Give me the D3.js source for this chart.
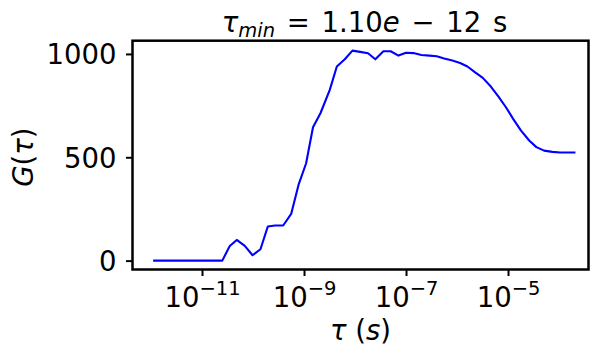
<!DOCTYPE html>
<html>
<head>
<meta charset="utf-8">
<script src="https://cdn.jsdelivr.net/npm/d3@7"></script>
<style>
  html, body { margin: 0; padding: 0; background: #fff; }
  svg text { font-family: "DejaVu Sans", sans-serif; fill: #000; }
</style>
</head>
<body>
<div id="chart"></div>
<script>
// ── Data: lag time tau (s) and correlation G(tau) ──────────────────────────
const tau = [
  1.1e-12, 1.6e-12, 2.3e-12, 3.3e-12, 4.7e-12, 6.7e-12, 9.5e-12, 1.35e-11, 1.9e-11,
  2.5e-11, 3.5e-11, 4.8e-11, 6.9e-11, 9.8e-11, 1.4e-10, 1.95e-10, 2.7e-10, 3.9e-10,
  5.6e-10, 7.8e-10, 1.1e-9, 1.5e-9, 2.1e-9, 3.2e-9, 4.4e-9, 6.3e-9, 8.9e-9,
  1.26e-8, 1.8e-8, 2.5e-8, 3.6e-8, 5.0e-8, 7.1e-8, 1.0e-7, 1.4e-7, 2.0e-7,
  2.9e-7, 4.0e-7, 5.6e-7, 8.1e-7, 1.15e-6, 1.6e-6, 2.2e-6, 3.2e-6, 4.6e-6,
  6.5e-6, 9.1e-6, 1.26e-5, 1.8e-5, 2.6e-5, 3.6e-5, 5.1e-5, 7.4e-5, 1.05e-4,
  1.5e-4, 2.1e-4
];
const gTau = [
  0, 0, 0, 0, 0, 0, 0, 0, 0,
  0, 71, 100, 71, 26, 55, 165, 170, 170,
  226, 366, 471, 645, 713, 826, 939, 974, 1016,
  1010, 1003, 974, 1013, 1013, 992, 1006, 1004, 995,
  992, 989, 978, 968, 956, 939, 913, 884, 842,
  793, 742, 686, 629, 581, 549, 532, 526, 523,
  523, 523
];
const xTicks = [1e-11, 1e-9, 1e-7, 1e-5];
const xTickExp = ['−11', '−9', '−7', '−5'];
const yTicks = [0, 500, 1000];

const W = 606, H = 359;
const FS = 27.5;     // main font size
const FS_SUB = 19.5; // super/subscript size
const plot = { left: 132.5, right: 588.5, top: 40.7, bottom: 269.5 };

const svg = d3.select('#chart').append('svg')
  .attr('width', W).attr('height', H);

const x = d3.scaleLog()
  .domain([Math.pow(10, -12.363), Math.pow(10, -3.422)])
  .range([plot.left, plot.right]);

const y = d3.scaleLinear()
  .domain([-43, 1064])
  .range([plot.bottom, plot.top]);

// ── Data line ──────────────────────────────────────────────────────────
const line = d3.line()
  .x((d, i) => x(tau[i]))
  .y(d => y(d));

svg.append('path')
  .datum(gTau)
  .attr('d', line)
  .attr('fill', 'none')
  .attr('stroke', '#0000ff')
  .attr('stroke-width', 2.1)
  .attr('stroke-linejoin', 'round');

// ── Axes ───────────────────────────────────────────────────────────────
const xAxis = svg.append('g')
  .attr('transform', `translate(0, ${plot.bottom})`)
  .call(d3.axisBottom(x).tickValues(xTicks).tickFormat('').tickSize(6.5).tickSizeOuter(0));

xAxis.select('.domain').remove();
xAxis.selectAll('.tick line').attr('stroke', '#000').attr('stroke-width', 2);

xAxis.selectAll('.tick').each(function (d, i) {
  const t = d3.select(this).append('text')
    .attr('y', 37)
    .attr('text-anchor', 'middle')
    .attr('font-size', FS);
  t.append('tspan').text('10');
  t.append('tspan')
    .attr('font-size', FS_SUB)
    .attr('dy', -11.5)
    .text(xTickExp[i]);
});

const yAxis = svg.append('g')
  .attr('transform', `translate(${plot.left}, 0)`)
  .call(d3.axisLeft(y).tickValues(yTicks).tickFormat(d3.format('d')).tickSize(6.5).tickSizeOuter(0));

yAxis.select('.domain').remove();
yAxis.selectAll('.tick line').attr('stroke', '#000').attr('stroke-width', 2);
yAxis.selectAll('.tick text')
  .attr('x', -16)
  .attr('dy', '0.36em')
  .attr('font-size', FS)
  .attr('font-family', '"DejaVu Sans", sans-serif');

// ── Frame ──────────────────────────────────────────────────────────────
svg.append('rect')
  .attr('x', plot.left).attr('y', plot.top)
  .attr('width', plot.right - plot.left)
  .attr('height', plot.bottom - plot.top)
  .attr('fill', 'none')
  .attr('stroke', '#000')
  .attr('stroke-width', 2.5);

// ── Title ──────────────────────────────────────────────────────────────
const cx = (plot.left + plot.right) / 2;
const title = svg.append('text')
  .attr('x', cx + 4).attr('y', 32)
  .attr('text-anchor', 'middle')
  .attr('word-spacing', 3)
  .attr('font-size', FS);
title.append('tspan').attr('font-style', 'italic').text('τ');
title.append('tspan').attr('font-style', 'italic').attr('font-size', FS_SUB).attr('dy', 5).text('min');
title.append('tspan').attr('dy', -5).text(' = 1.10');
title.append('tspan').attr('font-style', 'italic').text('e');
title.append('tspan').text(' − 12 s');

// ── Axis labels ────────────────────────────────────────────────────────
const xl = svg.append('text')
  .attr('x', cx).attr('y', 340)
  .attr('text-anchor', 'middle')
  .attr('font-size', FS);
xl.append('tspan').attr('font-style', 'italic').text('τ');
xl.append('tspan').text(' (');
xl.append('tspan').attr('font-style', 'italic').text('s');
xl.append('tspan').text(')');

const yl = svg.append('text')
  .attr('transform', `translate(33, ${(plot.top + plot.bottom) / 2 + 2}) rotate(-90)`)
  .attr('text-anchor', 'middle')
  .attr('font-size', FS);
yl.append('tspan').attr('font-style', 'italic').text('G');
yl.append('tspan').text('(');
yl.append('tspan').attr('font-style', 'italic').text('τ');
yl.append('tspan').text(')');
</script>
</body>
</html>
